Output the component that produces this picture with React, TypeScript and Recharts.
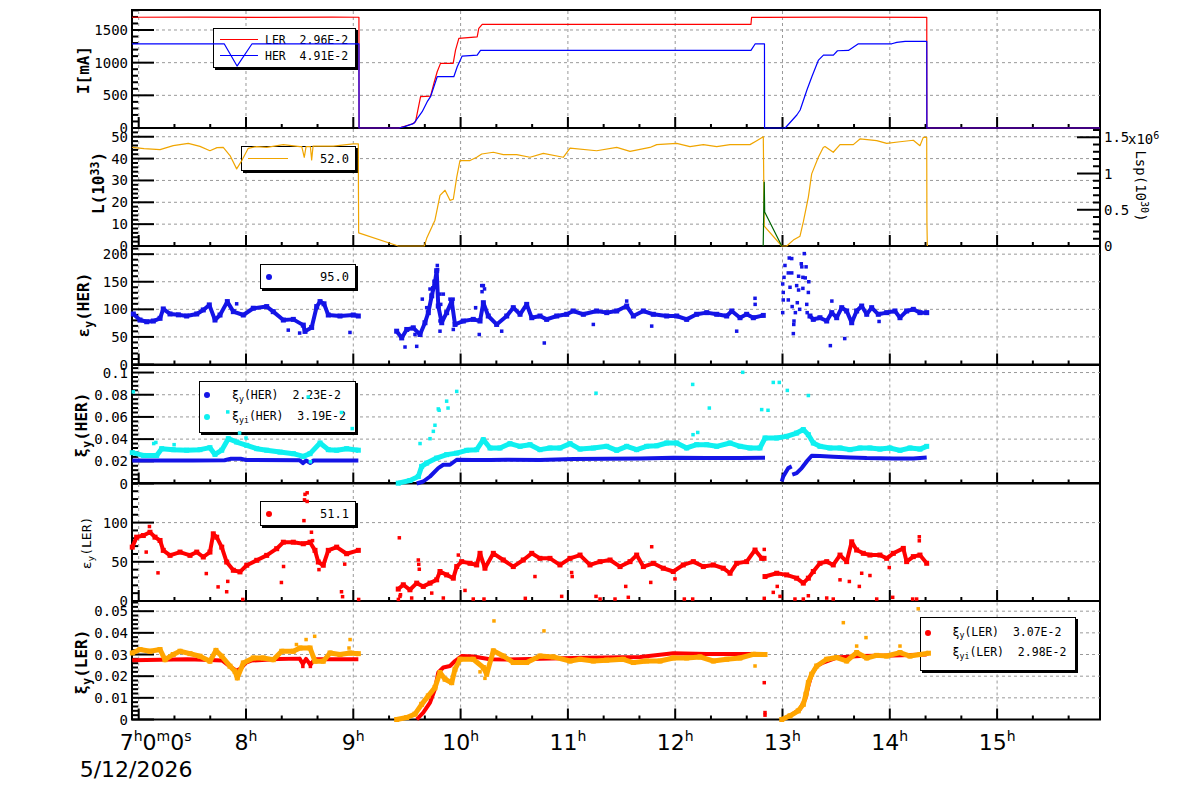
import React from 'react';
import { ComposedChart, Line, Scatter, XAxis, YAxis, ReferenceLine, ReferenceArea } from 'recharts';

type P = [number, number | null];

const MONO = "'DejaVu Sans Mono', monospace";
const SANS = "'DejaVu Sans', sans-serif";

const XMIN = 6.9376;
const XMAX = 15.959;
const HOUR_LABELS = [7, 8, 9, 10, 11, 12, 13, 14, 15];
const X_TICKS: number[] = [];
HOUR_LABELS.forEach((h) => {
  for (let k = 0; k < 3; k++) X_TICKS.push(Number((h + k / 3).toFixed(4)));
});
const DATE_LABEL = '5/12/2026';

const BOUNDS = [10, 128, 246, 364.5, 483, 601, 719.5];

// tick labels
const I_TICKS = [0, 500, 1000, 1500];
const L_TICKS = [0, 10, 20, 30, 40, 50];
const LSP_TICKS = [0, 0.5, 1, 1.5];
const EYH_TICKS = [0, 50, 100, 150, 200];
const XIH_TICKS = [0, 0.02, 0.04, 0.06, 0.08, 0.1];
const EYL_TICKS = [0, 50, 100];
const XIL_TICKS = [0, 0.01, 0.02, 0.03, 0.04, 0.05];

// ---- Panel 1 : beam currents ----
const I_LER: P[] = [[6.93,1695],[7.5,1697],[8.2,1693],[8.8,1696],[9.047,1695],[9.048,0],[9.419,0],[9.48,31],[9.544,61],[9.575,96],[9.622,479],[9.715,489],[9.746,683],[9.777,861],[9.808,989],[9.926,989],[9.948,1193],[9.979,1371],[10.15,1396],[10.165,1524],[10.197,1586],[12.704,1586],[12.71,1694],[13.5,1697],[14.344,1694],[14.345,0],[15.96,0]];
const I_HER: P[] = [[6.93,1289],[7.79,1289],[7.91,948],[8.05,1289],[9.047,1289],[9.048,0],[9.419,0],[9.48,25],[9.559,71],[9.637,250],[9.684,403],[9.715,479],[9.777,785],[9.932,785],[9.964,937],[10.01,1101],[10.15,1116],[10.181,1188],[12.704,1188],[12.744,1289],[12.83,1289],[12.831,0],[13.023,0],[13.132,199],[13.163,275],[13.226,581],[13.272,785],[13.334,1040],[13.38,1116],[13.473,1116],[13.511,1182],[13.613,1188],[13.706,1289],[14.018,1289],[14.064,1310],[14.142,1325],[14.344,1325],[14.345,0],[15.96,0]];

// ---- Panel 2 : luminosity ----
const LUM: P[] = [[6.94,45.1],[7.05,44.6],[7.199,44.1],[7.322,45.9],[7.462,47],[7.571,45.6],[7.664,43.6],[7.73,45],[7.788,45.1],[7.851,41.4],[7.913,35.3],[7.96,39],[8.021,44.7],[8.1,45.5],[8.193,45.1],[8.348,46.4],[8.503,45.5],[8.52,45.5],[8.543,40.6],[8.56,45.5],[8.6,45.5],[8.612,39.4],[8.625,45.7],[8.814,45.7],[9.0,46.7],[9.047,46.7],[9.048,26.2],[9.05,6.0],[9.419,0],[9.662,0],[9.684,3.5],[9.761,11.8],[9.808,23.2],[9.855,25.5],[9.901,20.9],[9.932,21.4],[9.964,31.5],[9.994,39.1],[10.088,39.1],[10.15,40.6],[10.197,42.1],[10.305,42.9],[10.398,41.8],[10.523,41.8],[10.647,40.6],[10.771,42.4],[10.957,40.6],[11.02,44.8],[11.268,43.6],[11.455,45.1],[11.579,43.3],[11.765,45.1],[11.828,46.4],[12.014,47],[12.138,45.5],[12.262,46.4],[12.387,45.5],[12.511,46.4],[12.697,46.4],[12.76,48.2],[12.821,50],[12.83,9.1],[12.993,0],[13.039,0],[13.101,2.7],[13.163,4.5],[13.194,11],[13.241,22.4],[13.272,33],[13.334,40.6],[13.38,45.1],[13.396,45.5],[13.473,42.9],[13.536,46.4],[13.66,46.4],[13.722,49],[13.878,48.2],[13.971,47],[14.095,47.7],[14.219,48.4],[14.281,45.9],[14.312,49.7],[14.344,49.7],[14.346,10.6],[14.35,0]];
const LSP: P[] = [[12.82,0],[12.83,0.88],[12.834,0.47],[12.993,0]];

// ---- Panel 3 : emittance HER ----
const EY_HER: P[] = [[6.95,91.6],[7.012,80.6],[7.075,77.5],[7.136,78.8],[7.199,83.7],[7.229,100.7],[7.292,91.6],[7.37,90],[7.447,87.9],[7.541,91.6],[7.602,98.9],[7.658,108],[7.711,80.6],[7.758,89.7],[7.826,114],[7.882,95.8],[7.975,89.7],[8.068,102],[8.193,105],[8.254,95.8],[8.348,80.6],[8.441,81.8],[8.534,71.4],[8.55,60],[8.612,67.2],[8.659,105],[8.69,114],[8.727,110],[8.767,89.7],[8.876,87.9],[9.0,89.7],[9.047,87.9],[9.05,null],[9.404,60.4],[9.451,48.2],[9.498,63.5],[9.559,66.5],[9.622,54.4],[9.668,75.7],[9.699,94],[9.731,124.5],[9.761,149],[9.777,170],[9.792,106],[9.824,75.7],[9.87,94],[9.917,115],[9.948,72.6],[10.025,78.8],[10.118,81.8],[10.181,78.8],[10.212,112],[10.258,87.9],[10.336,72.6],[10.43,87.9],[10.491,103],[10.554,91],[10.616,109],[10.663,84.8],[10.74,87.9],[10.802,81.8],[10.896,87.9],[10.989,91],[11.05,97],[11.144,91],[11.268,97],[11.362,94],[11.455,97],[11.548,106],[11.61,87.9],[11.703,97],[11.796,91],[11.921,87.9],[12.014,87.9],[12.107,81.8],[12.2,91],[12.294,94],[12.387,91],[12.48,87.9],[12.527,97],[12.604,84.8],[12.666,91],[12.728,84.8],[12.821,89],[12.83,null],[13.256,87.9],[13.287,81.8],[13.349,84.8],[13.412,78.8],[13.459,94],[13.505,84.8],[13.552,103],[13.598,97],[13.645,75.7],[13.691,97],[13.738,106],[13.785,91],[13.831,103],[13.893,91],[13.971,94],[14.048,97],[14.095,84.8],[14.157,97],[14.219,100],[14.281,94],[14.344,94]];
const EY_HER_PTS: P[] = [[8.394,62.3],[8.969,58.1],[7.913,110],[8.5,57],[9.482,31.7],[9.591,32.9],[9.783,179.5],[9.785,172],[9.643,118.5],[9.839,127.6],[10.174,54.4],[10.78,39],[10.212,143],[10.223,137],[12.744,120],[12.745,109],[12.573,60.4],[11.548,115],[11.781,69.6],[11.237,72.6],[10.383,60.4],[9.932,63.5],[9.575,54.4],[9.684,103],[9.715,136.8],[9.74,139],[9.755,151],[9.808,127.6],[9.815,109],[9.901,118.5],[9.93,118.5],[9.808,60.4],[10.197,143],[10.2,132],[10.22,103],[10.14,103],[9.808,79],[13.002,94],[13.002,146],[13.007,130.6],[13.007,117],[13.014,158],[13.023,179.5],[13.054,166],[13.054,117],[13.063,193],[13.086,192],[13.086,166],[13.101,56],[13.105,72.6],[13.107,78.8],[13.12,94],[13.132,143],[13.138,112],[13.15,135],[13.175,182.6],[13.18,177],[13.19,158],[13.19,138],[13.203,201],[13.212,157],[13.22,177],[13.226,109],[13.23,94],[13.241,130.6],[13.245,150],[13.15,160],[13.16,100],[13.07,140],[13.09,105],[13.446,34.2],[13.58,47],[13.46,115],[13.645,76],[13.9,78]];

// ---- Panel 4 : beam-beam HER ----
const XI_HER: P[] = [[6.94,0.0208],[7.5,0.0208],[7.8,0.021],[7.86,0.0223],[7.95,0.0223],[8.0,0.0212],[8.5,0.021],[8.53,0.0184],[8.56,0.0208],[8.6,0.0185],[8.63,0.0208],[9.047,0.0208],[9.05,null],[9.591,0],[9.652,0.0018],[9.715,0.0063],[9.792,0.0139],[9.839,0.0169],[9.901,0.0169],[9.964,0.0214],[10.118,0.0211],[10.274,0.0211],[10.43,0.0214],[10.74,0.0211],[11.05,0.022],[11.362,0.0223],[11.672,0.0226],[11.982,0.0232],[12.294,0.0229],[12.604,0.0229],[12.837,0.0232],[12.84,null],[12.993,0.0018],[13.007,0.0063],[13.054,0.0139],[13.086,0.0154],[13.088,null],[13.091,0.0079],[13.132,0.0093],[13.179,0.0139],[13.226,0.0199],[13.272,0.025],[13.349,0.0247],[13.473,0.0241],[13.629,0.0235],[13.785,0.0229],[14.033,0.0226],[14.219,0.0226],[14.344,0.0235]];
const XI_HER_I: P[] = [[6.94,0.0278],[7.043,0.0253],[7.168,0.0253],[7.214,0.0314],[7.322,0.0305],[7.447,0.03],[7.571,0.0305],[7.664,0.0323],[7.711,0.0262],[7.774,0.03],[7.835,0.0404],[7.913,0.0374],[8.007,0.0344],[8.1,0.0314],[8.193,0.03],[8.317,0.0283],[8.441,0.0269],[8.534,0.0244],[8.597,0.0269],[8.69,0.0365],[8.767,0.0305],[8.845,0.03],[8.938,0.0314],[9.047,0.03],[9.05,null],[9.419,0.0003],[9.528,0.0027],[9.606,0.0063],[9.637,0.0154],[9.684,0.0184],[9.777,0.0229],[9.87,0.026],[9.964,0.0274],[10.057,0.0299],[10.15,0.0305],[10.212,0.0395],[10.274,0.032],[10.367,0.032],[10.46,0.0359],[10.554,0.0335],[10.647,0.035],[10.74,0.0305],[10.833,0.032],[10.926,0.032],[11.02,0.0359],[11.113,0.031],[11.237,0.032],[11.362,0.0335],[11.455,0.0299],[11.548,0.0335],[11.641,0.0305],[11.734,0.0335],[11.828,0.034],[11.921,0.0365],[12.014,0.0365],[12.107,0.032],[12.2,0.035],[12.294,0.035],[12.387,0.0335],[12.511,0.0365],[12.604,0.0335],[12.697,0.032],[12.79,0.032],[12.837,0.041],[12.946,0.041],[13.039,0.0425],[13.132,0.0455],[13.194,0.0486],[13.241,0.044],[13.287,0.0365],[13.349,0.0335],[13.442,0.032],[13.536,0.032],[13.629,0.0305],[13.722,0.032],[13.815,0.032],[13.908,0.031],[14.001,0.032],[14.095,0.0299],[14.188,0.032],[14.281,0.031],[14.344,0.0335]];
const XI_HER_I_PTS: P[] = [[6.95,0.0826],[7.83,0.0645],[8.58,0.078],[8.89,0.064],[8.99,0.0495],[7.14,0.036],[7.16,0.037],[7.33,0.035],[7.94,0.0455],[8.0,0.041],[8.6,0.0196],[9.715,0.0404],[9.746,0.047],[9.761,0.0525],[9.792,0.0672],[9.8,0.066],[9.87,0.0742],[9.883,0.068],[9.964,0.083],[9.622,0.036],[11.262,0.0814],[12.163,0.0893],[12.318,0.068],[12.629,0.1002],[12.806,0.0666],[12.865,0.066],[12.914,0.0911],[12.97,0.0911],[13.045,0.0839],[13.241,0.0793],[12.21,0.046],[12.166,0.044]];

// ---- Panel 5 : emittance LER ----
const EY_LER: P[] = [[6.94,68.7],[6.981,81.4],[7.043,83.5],[7.105,87.7],[7.152,81.4],[7.199,77.2],[7.229,64.6],[7.292,58.2],[7.385,62.4],[7.478,58.2],[7.541,62.4],[7.602,56.1],[7.664,62.4],[7.695,85.7],[7.727,81.4],[7.774,68.7],[7.82,49.7],[7.882,39.2],[7.944,37.1],[8.007,45.6],[8.1,51.9],[8.193,58.2],[8.286,66.7],[8.348,75],[8.441,75],[8.534,73],[8.597,75],[8.643,64.6],[8.674,49.7],[8.72,45.6],[8.767,64.6],[8.845,68.7],[8.938,60.3],[9.047,64.6],[9.05,null],[9.419,15.2],[9.466,20.7],[9.528,14.3],[9.591,22.8],[9.652,18.6],[9.715,22.8],[9.777,27],[9.808,37.6],[9.87,33.3],[9.932,29.1],[9.964,43.9],[10.01,50.2],[10.088,48.1],[10.15,46],[10.181,60.8],[10.227,41.8],[10.305,60.8],[10.398,52.3],[10.491,43.9],[10.584,52.3],[10.663,60.8],[10.74,54.4],[10.833,54.4],[10.926,46],[11.02,54.4],[11.113,58.6],[11.206,46],[11.3,50.2],[11.393,52.3],[11.486,43.9],[11.579,50.2],[11.641,58.6],[11.703,43.9],[11.796,48.1],[11.889,41.8],[11.982,37.6],[12.075,46],[12.169,50.2],[12.262,43.9],[12.355,46],[12.448,41.8],[12.511,35.4],[12.573,48.1],[12.666,50.2],[12.744,65],[12.806,54.4],[12.828,54.4],[12.832,null],[12.837,31.2],[12.946,35.4],[13.039,33.3],[13.132,29.1],[13.194,22.8],[13.241,29.1],[13.287,37.6],[13.349,48.1],[13.412,50.2],[13.473,46],[13.536,58.6],[13.598,50.2],[13.645,75.5],[13.691,65],[13.753,60.8],[13.815,58.6],[13.908,58.6],[13.971,54.4],[14.033,60.8],[14.126,67.1],[14.157,50.2],[14.219,56.6],[14.281,58.6],[14.344,48.1]];
const EY_LER_PTS: P[] = [[8.55,136],[8.57,138],[8.545,129],[8.57,127],[8.54,102.5],[8.61,87.7],[8.62,77],[7.74,18],[7.82,11.8],[7.83,25],[7.97,2],[8.33,23.6],[8.35,44],[7.63,35],[7.18,35.9],[7.07,62.4],[8.89,11.8],[8.9,5.5],[9.05,2],[8.92,47],[8.68,40],[7.1,95],[9.42,2],[9.44,8],[9.429,80.6],[9.435,5.9],[9.544,3.8],[9.606,52.3],[9.61,46.8],[9.615,40.5],[9.731,10.1],[9.839,3.8],[9.979,58.6],[10.041,13.5],[10.118,2.5],[10.218,2.5],[10.603,3.4],[10.693,31.2],[10.942,5.9],[11.035,36.3],[11.04,31.2],[11.262,5.9],[11.3,2.5],[11.439,2.5],[11.539,18.6],[11.563,4.7],[11.772,23.7],[11.781,69.2],[11.998,28.2],[12.085,2.5],[12.163,2.5],[12.83,65.8],[12.83,3.4],[12.914,11],[12.951,18.6],[12.977,5.9],[13.116,2.5],[13.241,6.7],[13.194,2.5],[13.412,3.8],[13.473,2.5],[13.536,27],[13.623,24.9],[13.716,18.6],[13.738,35.4],[13.815,32.5],[13.878,2.5],[13.995,42.7],[14.027,4.7],[14.213,2.5],[14.25,2.5],[14.275,81.9],[14.275,76.8]];

// ---- Panel 6 : beam-beam LER ----
const XI_LER: P[] = [[6.94,0.0273],[7.2,0.0276],[7.45,0.0278],[7.6,0.0276],[7.78,0.0272],[7.85,0.0245],[7.91,0.0225],[7.95,0.0235],[8.0,0.0262],[8.05,0.0272],[8.3,0.0279],[8.5,0.0281],[8.53,0.0256],[8.56,0.028],[8.6,0.0252],[8.64,0.0278],[9.047,0.0278],[9.05,null],[9.591,0],[9.652,0.0032],[9.715,0.0078],[9.761,0.014],[9.792,0.0217],[9.839,0.024],[9.901,0.0247],[9.948,0.027],[10.01,0.0293],[10.118,0.0291],[10.274,0.0278],[10.43,0.0277],[10.74,0.028],[11.05,0.0284],[11.362,0.0286],[11.672,0.0289],[11.982,0.0306],[12.294,0.0302],[12.604,0.0302],[12.837,0.0302],[12.84,null],[12.993,0],[13.07,0.0017],[13.163,0.0048],[13.212,0.0094],[13.241,0.0155],[13.272,0.0209],[13.319,0.0247],[13.38,0.0263],[13.505,0.0286],[13.722,0.0293],[14.033,0.0296],[14.344,0.03]];
const XI_LER_PTS: P[] = [[12.83,0.017],[12.837,0.0032],[12.837,0.002],[8.53,0.0245],[8.6,0.0245]];
const XI_LER_I: P[] = [[6.94,0.0307],[7.012,0.0323],[7.105,0.0315],[7.199,0.0323],[7.245,0.0276],[7.322,0.03],[7.385,0.0315],[7.478,0.0304],[7.571,0.0292],[7.664,0.0269],[7.72,0.0319],[7.774,0.0292],[7.851,0.0246],[7.897,0.0223],[7.919,0.0192],[7.975,0.0261],[8.068,0.0284],[8.161,0.0284],[8.254,0.0276],[8.333,0.0315],[8.441,0.0315],[8.503,0.033],[8.597,0.033],[8.643,0.0269],[8.72,0.0269],[8.783,0.0307],[8.876,0.03],[8.969,0.0307],[9.047,0.0304],[9.05,null],[9.404,0],[9.498,0.0009],[9.575,0.0025],[9.637,0.007],[9.699,0.0109],[9.761,0.0147],[9.808,0.0217],[9.855,0.0186],[9.917,0.017],[9.948,0.0232],[9.994,0.0278],[10.118,0.0278],[10.212,0.024],[10.243,0.0209],[10.305,0.0317],[10.398,0.0293],[10.491,0.0263],[10.616,0.0263],[10.74,0.0293],[10.864,0.0289],[11.02,0.027],[11.113,0.0278],[11.237,0.027],[11.362,0.0274],[11.516,0.0278],[11.61,0.0263],[11.734,0.027],[11.859,0.027],[11.982,0.0284],[12.107,0.0284],[12.231,0.0289],[12.355,0.027],[12.48,0.0278],[12.604,0.0284],[12.728,0.0301],[12.837,0.03],[12.84,null],[12.993,0],[13.07,0.0017],[13.147,0.004],[13.194,0.007],[13.219,0.0117],[13.241,0.017],[13.272,0.0209],[13.319,0.0247],[13.412,0.0278],[13.505,0.0286],[13.598,0.027],[13.691,0.0309],[13.785,0.0284],[13.878,0.0296],[13.971,0.0293],[14.095,0.0309],[14.188,0.0293],[14.281,0.03],[14.36,0.0306]];
const XI_LER_I_PTS: P[] = [[8.47,0.0346],[8.56,0.0369],[8.64,0.0384],[8.97,0.0369],[8.96,0.033],[10.311,0.0455],[10.777,0.0409],[12.744,0.0247],[10.181,0.022],[10.227,0.019],[12.999,0],[13.567,0.0447],[13.778,0.0378],[14.265,0.0511],[13.691,0.0339],[14.095,0.0339]];

// ---------------------------------------------------------------
const toD = (a: P[]) => a.map(([t, v]) => ({ t, v }));
const nonNull = (a: P[]) => a.filter((p) => p[1] !== null);
const fmt = (v: number) => String(parseFloat(v.toFixed(4)));
const makeTicks = (max: number, step: number) => {
  const out: number[] = [];
  for (let i = 0; i * step <= max + 1e-12; i++) out.push(parseFloat((i * step).toFixed(6)));
  return out;
};
const PAD = 14;
const BOTTOM_EXTRA = 70;
const XAXIS_H = 1;

type S = { kind: 'line' | 'dots'; data: P[]; color: string; w?: number; axis?: string; size?: number; marks?: number };
type Cfg = {
  idx: number;
  yMax: number;
  majors: number[];
  minor: number;
  right?: { max: number; majors: number[]; minor: number };
  series: S[];
  bottom?: boolean;
};

function YTickL(props: any) {
  const { x, y, payload, majors } = props;
  const v = payload.value;
  const major = majors.some((m: number) => Math.abs(m - v) < 1e-9);
  return (
    <g>
      <line x1={x} x2={x + (major ? 22 : 6)} y1={y} y2={y} stroke="#000" strokeWidth={2} />
      {major && (
        <text x={x - 4} y={y} dy="0.36em" textAnchor="end" fontFamily={MONO} fontSize={14} fill="#000">
          {fmt(v)}
        </text>
      )}
    </g>
  );
}
function YTickR(props: any) {
  const { x, y, payload, majors } = props;
  const v = payload.value;
  const major = majors.some((m: number) => Math.abs(m - v) < 1e-9);
  return (
    <g>
      <line x1={x} x2={x - (major ? 23 : 7)} y1={y} y2={y} stroke="#000" strokeWidth={2} />
      {major && (
        <text x={x + 4} y={y} dy="0.36em" textAnchor="start" fontFamily={MONO} fontSize={14} fill="#000">
          {fmt(v)}
        </text>
      )}
    </g>
  );
}
function XTick(props: any) {
  const { x, payload, labels } = props;
  const y = props.y;
  const v = payload.value;
  const major = Math.abs(v - Math.round(v)) < 1e-3;
  let label: any = null;
  if (labels && major) {
    const h = Math.round(v);
    if (h === 7) {
      label = (
        <g>
          <text x={x - 19} y={y + 30} fontFamily={SANS} fontSize={22} fill="#000" textAnchor="start">
            7<tspan dy={-9} fontSize={14}>h</tspan>
            <tspan dy={9}>0</tspan>
            <tspan dy={-9} fontSize={14}>m</tspan>
            <tspan dy={9}>0</tspan>
            <tspan dy={-9} fontSize={14}>s</tspan>
          </text>
          <text x={x - 59} y={y + 57} fontFamily={SANS} fontSize={22} fill="#000" textAnchor="start">
            {DATE_LABEL}
          </text>
        </g>
      );
    } else {
      label = (
        <text x={x} y={y + 30} fontFamily={SANS} fontSize={22} fill="#000" textAnchor="middle">
          {h}
          <tspan dy={-9} fontSize={14}>h</tspan>
        </text>
      );
    }
  }
  return (
    <g>
      <line x1={x} x2={x} y1={y} y2={y - (major ? 11 : 4)} stroke="#000" strokeWidth={2} />
      {label}
    </g>
  );
}

function geom(cfg: Cfg) {
  const top = BOUNDS[cfg.idx];
  const h = BOUNDS[cfg.idx + 1] - top;
  const extra = cfg.bottom ? BOTTOM_EXTRA : 0;
  return { top: top - PAD, chartH: h + 2 * PAD + extra, extra };
}

function GridLayer({ cfg }: { cfg: Cfg }) {
  const g = geom(cfg);
  const yTicks = makeTicks(cfg.yMax, cfg.minor);
  const rTicks = cfg.right ? makeTicks(cfg.right.max, cfg.right.minor) : [];
  return (
    <div style={{ position: 'absolute', left: 0, top: g.top }}>
      <ComposedChart
        width={1200}
        height={g.chartH}
        margin={{ top: PAD, bottom: PAD + g.extra - XAXIS_H, left: 72, right: cfg.right ? 40 : 100 }}
      >
        <XAxis
          type="number"
          dataKey="t"
          domain={[XMIN, XMAX]}
          allowDataOverflow
          ticks={X_TICKS}
          interval={0}
          tickSize={0}
          tickMargin={0}
          axisLine={false}
          tickLine={false}
          height={XAXIS_H}
          tick={(p: any) => <XTick {...p} labels={!!cfg.bottom} />}
        />
        <YAxis
          type="number"
          dataKey="v"
          domain={[0, cfg.yMax]}
          allowDataOverflow
          ticks={yTicks}
          interval={0}
          tickSize={0}
          tickMargin={0}
          axisLine={false}
          tickLine={false}
          width={60}
          tick={(p: any) => <YTickL {...p} majors={cfg.majors} />}
        />
        {cfg.right && (
          <YAxis
            yAxisId="r"
            orientation="right"
            type="number"
            dataKey="v"
            domain={[0, cfg.right.max]}
            allowDataOverflow
            ticks={rTicks}
            interval={0}
            tickSize={0}
            tickMargin={0}
            axisLine={false}
            tickLine={false}
            width={60}
            tick={(p: any) => <YTickR {...p} majors={cfg.right!.majors} />}
          />
        )}
        {HOUR_LABELS.map((hh) => (
          <ReferenceLine key={'v' + hh} x={hh} stroke="#999" strokeDasharray="3 3" strokeWidth={1} />
        ))}
        {cfg.majors
          .filter((m) => m > 0 && m < cfg.yMax)
          .map((m) => (
            <ReferenceLine key={'h' + m} y={m} stroke="#999" strokeDasharray="3 3" strokeWidth={1} />
          ))}
        <ReferenceArea
          x1={XMIN}
          x2={XMAX}
          y1={0}
          y2={cfg.yMax}
          fill="none"
          fillOpacity={0}
          stroke="#000"
          strokeWidth={2}
          ifOverflow="visible"
        />
      </ComposedChart>
    </div>
  );
}

function squareShape(sz: number, color: string) {
  return (p: any) =>
    p.cx == null || p.cy == null || isNaN(p.cx) || isNaN(p.cy) ? (
      <g />
    ) : (
      <rect x={p.cx - sz / 2} y={p.cy - sz / 2} width={sz} height={sz} fill={color} />
    );
}

function DataLayer({ cfg }: { cfg: Cfg }) {
  const g = geom(cfg);
  const els: any[] = [];
  cfg.series.forEach((s, i) => {
    const axisProps = s.axis ? { yAxisId: s.axis } : {};
    if (s.kind === 'line') {
      els.push(
        <Line
          key={'l' + i}
          {...axisProps}
          data={toD(s.data)}
          dataKey="v"
          type="linear"
          stroke={s.color}
          strokeWidth={s.w ?? 1}
          dot={false}
          activeDot={false}
          connectNulls={false}
          strokeLinejoin="round"
          isAnimationActive={false}
        />
      );
      if (s.marks) {
        els.push(
          <Scatter
            key={'m' + i}
            {...axisProps}
            data={toD(nonNull(s.data))}
            fill={s.color}
            isAnimationActive={false}
            shape={squareShape(s.marks, s.color)}
          />
        );
      }
    } else {
      els.push(
        <Scatter
          key={'s' + i}
          {...axisProps}
          data={toD(s.data)}
          fill={s.color}
          isAnimationActive={false}
          shape={squareShape(s.size ?? 3, s.color)}
        />
      );
    }
  });
  return (
    <div style={{ position: 'absolute', left: 0, top: g.top }}>
      <ComposedChart width={1200} height={g.chartH} margin={{ top: PAD, bottom: PAD + g.extra, left: 132, right: 100 }}>
        <XAxis type="number" dataKey="t" domain={[XMIN, XMAX]} hide />
        <YAxis type="number" dataKey="v" domain={[0, cfg.yMax]} hide />
        {cfg.right && <YAxis yAxisId="r" orientation="right" type="number" dataKey="v" domain={[0, cfg.right.max]} hide />}
        {els}
      </ComposedChart>
    </div>
  );
}

const BLUE = '#1414e6';
const CYAN = '#0ff0f0';
const RED = '#ff0000';
const ORANGE = '#ffa500';
const GOLD = '#f0a500';
const GREEN = '#006400';

const PANELS: Cfg[] = [
  {
    idx: 0,
    yMax: 1806,
    majors: I_TICKS,
    minor: 100,
    series: [
      { kind: 'line', data: I_LER, color: RED, w: 1.2 },
      { kind: 'line', data: I_HER, color: '#0000ff', w: 1.2 },
    ],
  },
  {
    idx: 1,
    yMax: 54,
    majors: L_TICKS,
    minor: 2,
    right: { max: 1.628, majors: LSP_TICKS, minor: 0.1 },
    series: [
      { kind: 'line', data: LUM, color: GOLD, w: 1.2 },
      { kind: 'line', data: LSP, color: GREEN, w: 1.2, axis: 'r' },
    ],
  },
  {
    idx: 2,
    yMax: 214.8,
    majors: EYH_TICKS,
    minor: 10,
    series: [
      { kind: 'line', data: EY_HER, color: BLUE, w: 4, marks: 5 },
      { kind: 'dots', data: EY_HER_PTS, color: BLUE, size: 3.5 },
    ],
  },
  {
    idx: 3,
    yMax: 0.1068,
    majors: XIH_TICKS,
    minor: 0.004,
    series: [
      { kind: 'line', data: XI_HER_I, color: CYAN, w: 5, marks: 5 },
      { kind: 'dots', data: XI_HER_I_PTS, color: CYAN, size: 3.5 },
      { kind: 'line', data: XI_HER, color: BLUE, w: 4 },
    ],
  },
  {
    idx: 4,
    yMax: 150.5,
    majors: EYL_TICKS,
    minor: 10,
    series: [
      { kind: 'line', data: EY_LER, color: RED, w: 4, marks: 5 },
      { kind: 'dots', data: EY_LER_PTS, color: RED, size: 3.5 },
    ],
  },
  {
    idx: 5,
    yMax: 0.0547,
    majors: XIL_TICKS,
    minor: 0.002,
    bottom: true,
    series: [
      { kind: 'line', data: XI_LER, color: RED, w: 4 },
      { kind: 'dots', data: XI_LER_PTS, color: RED, size: 3.5 },
      { kind: 'line', data: XI_LER_I, color: ORANGE, w: 5, marks: 5 },
      { kind: 'dots', data: XI_LER_I_PTS, color: ORANGE, size: 3.5 },
    ],
  },
];

// ---- HTML overlays: titles and legends ----
function VTitle({ cx, cy, rot = -90, size = 16, bold = true, children }: any) {
  return (
    <div
      style={{
        position: 'absolute',
        left: cx,
        top: cy,
        transform: `translate(-50%,-50%) rotate(${rot}deg)`,
        fontFamily: MONO,
        fontSize: size,
        fontWeight: bold ? 'bold' : 'normal',
        whiteSpace: 'nowrap',
        lineHeight: 1,
        color: '#000',
      }}
    >
      {children}
    </div>
  );
}
const Sub = ({ children }: any) => (
  <span style={{ fontSize: '0.72em', position: 'relative', top: '0.32em' }}>{children}</span>
);
const Sup = ({ children }: any) => (
  <span style={{ fontSize: '0.72em', position: 'relative', top: '-0.45em' }}>{children}</span>
);

function Box({ l, t, w, h, children }: any) {
  return (
    <div
      style={{
        position: 'absolute',
        left: l,
        top: t,
        width: w,
        height: h,
        background: '#fff',
        border: '1px solid #000',
        boxShadow: '2px 2px 0 #000',
        boxSizing: 'border-box',
      }}
    >
      {children}
    </div>
  );
}
function Txt({ l, r, cy, size = 11.5, children }: any) {
  return (
    <div
      style={{
        position: 'absolute',
        left: l,
        right: r,
        top: cy - 8,
        height: 16,
        lineHeight: '16px',
        fontFamily: MONO,
        fontSize: size,
        whiteSpace: 'pre',
        color: '#000',
        textAlign: r !== undefined ? 'right' : 'left',
      }}
    >
      {children}
    </div>
  );
}
const LMark = ({ l, cy, w, color }: any) => (
  <div style={{ position: 'absolute', left: l, top: cy - 0.5, width: w, height: 0, borderTop: `1px solid ${color}` }} />
);
const DMark = ({ cx, cy, color }: any) => (
  <div style={{ position: 'absolute', left: cx - 3, top: cy - 3, width: 6, height: 6, borderRadius: 3, background: color }} />
);

function Overlays() {
  return (
    <>
      <VTitle cx={84} cy={70}>I[mA]</VTitle>
      <VTitle cx={99} cy={183}>
        L(10<Sup>33</Sup>)
      </VTitle>
      <VTitle cx={84} cy={305}>
        ε<Sub>y</Sub>(HER)
      </VTitle>
      <VTitle cx={82} cy={425}>
        ξ<Sub>y</Sub>(HER)
      </VTitle>
      <VTitle cx={86} cy={543} size={13} bold={false}>
        ε<Sub>y</Sub>(LER)
      </VTitle>
      <VTitle cx={82} cy={662}>
        ξ<Sub>y</Sub>(LER)
      </VTitle>
      <VTitle cx={1141} cy={186} rot={90} size={14} bold={false}>
        Lsp(10<Sup>30</Sup>)
      </VTitle>
      <div style={{ position: 'absolute', left: 1128, top: 131, fontFamily: MONO, fontSize: 14, lineHeight: '16px', whiteSpace: 'nowrap' }}>
        x10<Sup>6</Sup>
      </div>
    </>
  );
}

function Legends() {
  return (
    <>
      <Box l={213} t={28} w={143} h={40}>
        <LMark l={6} cy={10.5} w={38} color={RED} />
        <Txt l={51} cy={10.5}>{'LER  2.96E-2'}</Txt>
        <LMark l={6} cy={26.5} w={38} color="#0000ff" />
        <Txt l={51} cy={26.5}>{'HER  4.91E-2'}</Txt>
      </Box>
      <Box l={241} t={146} w={115} h={25}>
        <LMark l={6} cy={11.5} w={40} color={GOLD} />
        <Txt r={6} cy={11.5} size={12}>52.0</Txt>
      </Box>
      <Box l={260} t={264} w={96} h={25}>
        <DMark cx={7.5} cy={11.5} color={BLUE} />
        <Txt r={6} cy={11.5} size={12}>95.0</Txt>
      </Box>
      <Box l={199} t={381} w={157} h={52}>
        <DMark cx={7} cy={13} color={BLUE} />
        <Txt l={32} cy={13}>
          ξ<Sub>y</Sub>{'(HER)  2.23E-2'}
        </Txt>
        <DMark cx={7} cy={35} color={CYAN} />
        <Txt l={32} cy={34}>
          ξ<Sub>yi</Sub>{'(HER)  3.19E-2'}
        </Txt>
      </Box>
      <Box l={260} t={501} w={96} h={25}>
        <DMark cx={7.5} cy={11.5} color={RED} />
        <Txt r={6} cy={11.5} size={12}>51.1</Txt>
      </Box>
      <Box l={919.5} t={617} w={156.5} h={53.5}>
        <DMark cx={7.5} cy={14.5} color={RED} />
        <Txt l={32} cy={13.7}>
          ξ<Sub>y</Sub>{'(LER)  3.07E-2'}
        </Txt>
        <Txt l={32} cy={34.3}>
          ξ<Sub>yi</Sub>{'(LER)  2.98E-2'}
        </Txt>
      </Box>
    </>
  );
}

export default function App() {
  return (
    <div style={{ position: 'absolute', left: 0, top: 0, width: 1200, height: 798, background: '#fff', overflow: 'hidden' }}>
      {PANELS.map((c) => (
        <GridLayer key={'g' + c.idx} cfg={c} />
      ))}
      <Overlays />
      <Legends />
      {PANELS.map((c) => (
        <DataLayer key={'d' + c.idx} cfg={c} />
      ))}
    </div>
  );
}
